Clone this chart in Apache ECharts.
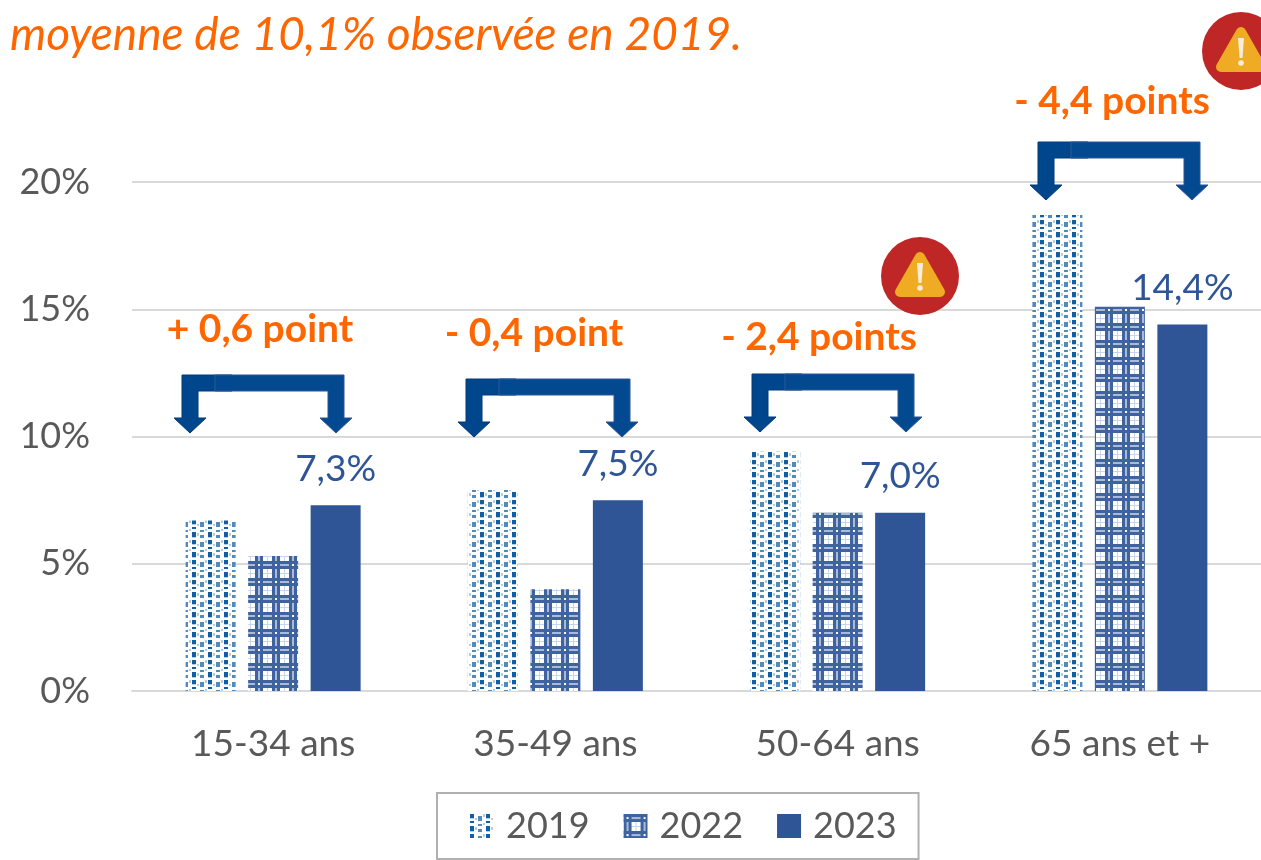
<!DOCTYPE html>
<html>
<head>
<meta charset="utf-8">
<script src="https://cdn.jsdelivr.net/npm/echarts@6/dist/echarts.min.js"></script>
<style>
html, body { margin: 0; background: #fff; overflow: hidden; }
#chart { width: 1261px; height: 860px; }
</style>
</head>
<body>
<div id="chart"></div>
<script>
const categories = ['15-34 ans', '35-49 ans', '50-64 ans', '65 ans et +'];
const seriesNames = ['2019', '2022', '2023'];
const values2019 = [6.7, 7.9, 9.4, 18.7];
const values2022 = [5.3, 4.0, 7.0, 15.1];
const values2023 = [7.3, 7.5, 7.0, 14.4];
const yTicks = [0, 5, 10, 15, 20];

const FONT = 'Lato, "Open Sans", sans-serif';
const GREY = '#595959';
const ORANGE = '#ff6600';
const BLUE = '#2f5597';

// motif pointille du 2019
function tile2019 () {
    const c = document.createElement('canvas');
    c.width = 16; c.height = 20;
    const g = c.getContext('2d');
    g.fillStyle = '#fff';
    g.fillRect(0, 0, 16, 20);
    g.fillStyle = '#0f5fa6';
    g.fillRect(0, 0, 4, 4);
    g.fillRect(0, 7, 4, 2);
    g.fillRect(0, 12, 4, 5);
    g.fillStyle = '#4f8bc0';
    g.fillRect(8, 2, 4, 5);
    g.fillRect(8, 10, 4, 2);
    g.fillRect(8, 15, 4, 3);
    g.fillStyle = '#b5cde4';
    g.fillRect(0, 4, 4, 1);
    g.fillRect(0, 17, 4, 1);
    g.fillRect(5, 4, 2, 2);
    g.fillRect(5, 13, 2, 3);
    g.fillRect(13, 0, 2, 3);
    g.fillRect(13, 9, 2, 2);
    return c;
}

// motif quadrille du 2022
function tile2022 () {
    const c = document.createElement('canvas');
    c.width = 17; c.height = 17;
    const g = c.getContext('2d');
    g.fillStyle = '#fff';
    g.fillRect(0, 0, 17, 17);
    g.fillStyle = '#a9bbd8';
    g.fillRect(3, 0, 2, 17);
    g.fillRect(0, 3, 17, 2);
    g.fillStyle = '#3f639f';
    [0, 5].forEach(p => {
        g.fillRect(p, 0, 3, 17);
        g.fillRect(0, p, 17, 3);
    });
    g.fillStyle = '#fff';
    g.fillRect(3, 3, 2, 2);
    g.fillStyle = '#c9d5e8';
    g.fillRect(12, 8, 1, 9);
    g.fillRect(8, 12, 9, 1);
    return c;
}

// fleche coudee, posee au-dessus de chaque groupe
function bracket (leftTip, rightTip, top) {
    const h = 16, half = 8, wing = 16, tipY = top + 58, headY = top + 43;
    const elbowEnd = leftTip + 42;
    return [
        {
            type: 'polygon', z: 50,
            shape: { points: [[leftTip - half, top], [elbowEnd, top], [elbowEnd, top + h], [leftTip + half, top + h], [leftTip + half, headY], [leftTip + wing, headY], [leftTip, tipY], [leftTip - wing, headY], [leftTip - half, headY]] },
            style: { fill: '#00468c', stroke: '#003a78', lineWidth: 1 }
        },
        {
            type: 'polygon', z: 51,
            shape: { points: [[leftTip + 25, top], [rightTip + half, top], [rightTip + half, headY], [rightTip + wing, headY], [rightTip, tipY], [rightTip - wing, headY], [rightTip - half, headY], [rightTip - half, top + h], [leftTip + 25, top + h]] },
            style: { fill: '#03498f', stroke: '#2f5597', lineWidth: 1 }
        }
    ];
}

function warning (cx, cy) {
    return [
        { type: 'circle', z: 60, shape: { cx: cx, cy: cy, r: 39 }, style: { fill: '#bf2626' } },
        {
            type: 'polygon', z: 61,
            shape: { points: [[cx, cy - 19], [cx + 20, cy + 16], [cx - 20, cy + 16]] },
            style: { fill: '#efab23', stroke: '#efab23', lineWidth: 10, lineJoin: 'round' }
        },
        {
            type: 'polygon', z: 62,
            shape: { points: [[cx - 3, cy - 13], [cx + 3, cy - 13], [cx + 1.5, cy + 7], [cx - 1.5, cy + 7]] },
            style: { fill: '#f6eedb' }
        },
        { type: 'circle', z: 62, shape: { cx: cx, cy: cy + 12, r: 2.8 }, style: { fill: '#f6eedb' } }
    ];
}

function note (text, x, y) {
    return {
        type: 'text', z: 55, x: x, y: y,
        style: { text: text, fill: ORANGE, font: 'bold 39px ' + FONT, textAlign: 'center', textVerticalAlign: 'middle' }
    };
}

const graphics = [].concat(
    bracket(190, 336, 375),
    bracket(474, 622, 379),
    bracket(760, 906, 374),
    bracket(1046, 1192, 142),
    warning(920, 276),
    warning(1241, 51),
    [
        note('+ 0,6 point', 260, 329),
        note('- 0,4 point', 534, 333),
        note('- 2,4 points', 819, 337),
        note('- 4,4 points', 1112, 101)
    ]
);

const chart = echarts.init(document.getElementById('chart'), null, { renderer: 'canvas' });

function makeBar (name, values, color) {
    return {
        name: name,
        type: 'bar',
        data: values,
        barWidth: 50,
        barGap: '25%',
        itemStyle: { color: color }
    };
}

const bar2023 = makeBar(seriesNames[2], values2023, BLUE);
bar2023.label = {
    show: true,
    position: 'top',
    distance: 18,
    color: BLUE,
    fontFamily: FONT,
    fontSize: 37,
    formatter: p => p.value.toFixed(1).replace('.', ',') + '%'
};

chart.setOption({
    animation: false,
    backgroundColor: '#fff',
    title: {
        text: 'moyenne de 10,1% observée en 2019.',
        left: 10,
        top: 12,
        padding: 0,
        textStyle: { color: ORANGE, fontFamily: FONT, fontStyle: 'italic', fontWeight: 'normal', fontSize: 46 }
    },
    grid: { left: 132, right: 0, top: 182, bottom: 169 },
    legend: {
        data: seriesNames,
        left: 437,
        top: 793,
        padding: [15, 22, 15, 33],
        itemWidth: 24,
        itemHeight: 24,
        itemGap: 34,
        icon: 'rect',
        borderColor: '#b0b0b0',
        borderWidth: 2,
        textStyle: { color: GREY, fontFamily: FONT, fontSize: 36, padding: [0, 0, 0, 7] }
    },
    xAxis: {
        type: 'category',
        data: categories,
        axisTick: { show: false },
        axisLine: { lineStyle: { color: '#d9d9d9', width: 2 } },
        axisLabel: { color: GREY, fontFamily: FONT, fontSize: 37, margin: 35 }
    },
    yAxis: {
        type: 'value',
        min: yTicks[0],
        max: yTicks[yTicks.length - 1],
        interval: 5,
        axisLine: { show: false },
        axisTick: { show: false },
        splitLine: { lineStyle: { color: '#d9d9d9', width: 2 } },
        axisLabel: { color: GREY, fontFamily: FONT, fontSize: 36, margin: 42, formatter: '{value}%' }
    },
    series: [
        makeBar(seriesNames[0], values2019, { image: tile2019(), repeat: 'repeat' }),
        makeBar(seriesNames[1], values2022, { image: tile2022(), repeat: 'repeat' }),
        bar2023
    ],
    graphic: graphics
});

window.addEventListener('resize', chart.resize);
</script>
</body>
</html>
